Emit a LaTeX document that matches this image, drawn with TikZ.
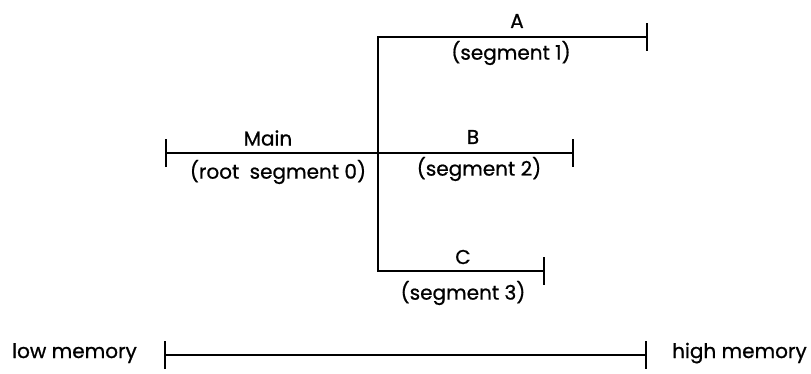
\documentclass[tikz,border=0pt]{standalone}
\usepackage{fontspec}
\setmainfont{Poppins}[FakeBold=0.8]
\usetikzlibrary{arrows.meta}
\tikzset{
  every picture/.style={line cap=butt,line join=miter},
  seg/.style={line width=2.2pt,draw=black},
  barboth/.style={{Bar[width=28pt,line width=2pt]}-{Bar[width=28pt,line width=2pt]}},
  lab/.style={font=\fontsize{20}{24}\selectfont,text=black,inner sep=0pt}
}
\begin{document}
\begin{tikzpicture}[x=1pt,y=-1pt]
  \useasboundingbox (0,0) rectangle (811,373);

  % The root segment and segment B share one line.
  \coordinate (mainL) at (165,153);
  \coordinate (bR) at (574,153);
  \draw[seg,barboth] (mainL) -- (bR);
  \node[lab] (mainlab) at (268,138) {Main};
  \node[lab] (rootlab) at (278,172) {(root\hspace{.25em} segment 0)};
  \node[lab] (blab) at (473,137) {B};
  \node[lab] (seg2lab) at (479,169) {(segment 2)};

  % The trunk with segments A and C.
  \coordinate (aR) at (648,37);
  \coordinate (trunkT) at (378,37);
  \coordinate (trunkB) at (378,271);
  \coordinate (cR) at (545,271);
  \draw[seg,barboth] (aR) -- (trunkT) -- (trunkB) -- (cR);
  \node[lab] (alab) at (517,21) {A};
  \node[lab] (seg1lab) at (511,53) {(segment 1)};
  \node[lab] (clab) at (463,257) {C};
  \node[lab] (seg3lab) at (463,293) {(segment 3)};

  % The memory scale.
  \coordinate (memL) at (164,355);
  \coordinate (memR) at (647,355);
  \draw[seg,barboth] (memL) -- (memR);
  \node[lab,anchor=base west] (lowlab) at (12,358) {low memory};
  \node[lab,anchor=base west] (highlab) at (672,358) {high memory};
\end{tikzpicture}
\end{document}
